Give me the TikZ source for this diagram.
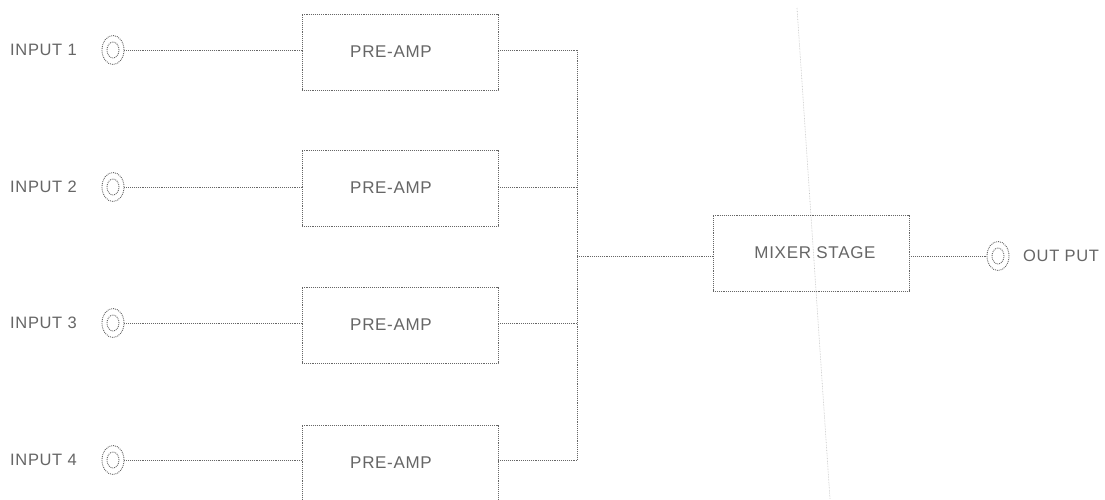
\documentclass[tikz,border=0pt]{standalone}
\usepackage{fontspec}
\setmainfont{Liberation Sans}[LetterSpace=4]
\usetikzlibrary{shapes.geometric}
\begin{document}
\begin{tikzpicture}[x=1pt,y=-1pt,
  wire/.style={draw=black!60, line width=0.9pt, densely dotted},
  blk/.style={wire, rectangle, minimum width=196pt, minimum height=76pt, inner sep=0pt,
    font=\fontsize{17}{19}\selectfont, text=black!60},
  jack/.style={wire, ellipse, minimum width=22pt, minimum height=29pt, inner sep=0pt},
  lbl/.style={anchor=west, inner sep=0pt, font=\fontsize{16.5}{19}\selectfont, text=black!60}]
\clip (0,0) rectangle (1105,499);
\useasboundingbox (0,0) rectangle (1105,499);
\fill[white] (0,0) rectangle (1105,499);
% faint scan fold
\draw[black!25, line width=0.6pt, densely dotted] (797,8) -- (830,499);
% inputs
\foreach \i/\y/\c in {1/50/52,2/187/188,3/323/325,4/460/463}{
  \node[lbl] (l\i) at (10,\y) {INPUT \i};
  \node[jack] (j\i) at (113,\y) {};
  \draw[wire] (j\i.center) ellipse (6pt and 8pt);
  \node[blk] (pa\i) at (400,\c) {\hspace*{-18pt}PRE-AMP};
  \coordinate (b\i) at (577,\y);
  \draw[wire] (j\i) -- (j\i -| pa\i.west);
  \draw[wire] (pa\i.east |- b\i) -- (b\i);
}
\draw[wire] (b1) -- (b4);
\coordinate (bm) at (577,256);
\node[blk] (mix) at (811,253) {\hspace*{8pt}MIXER STAGE};
\draw[wire] (bm) -- (bm -| mix.west);
\node[jack] (jo) at (998,256) {};
\draw[wire] (jo.center) ellipse (6pt and 8pt);
\draw[wire] (mix.east |- jo) -- (jo);
\node[lbl] (lo) at (1023,256) {OUT PUT};
\end{tikzpicture}
\end{document}
